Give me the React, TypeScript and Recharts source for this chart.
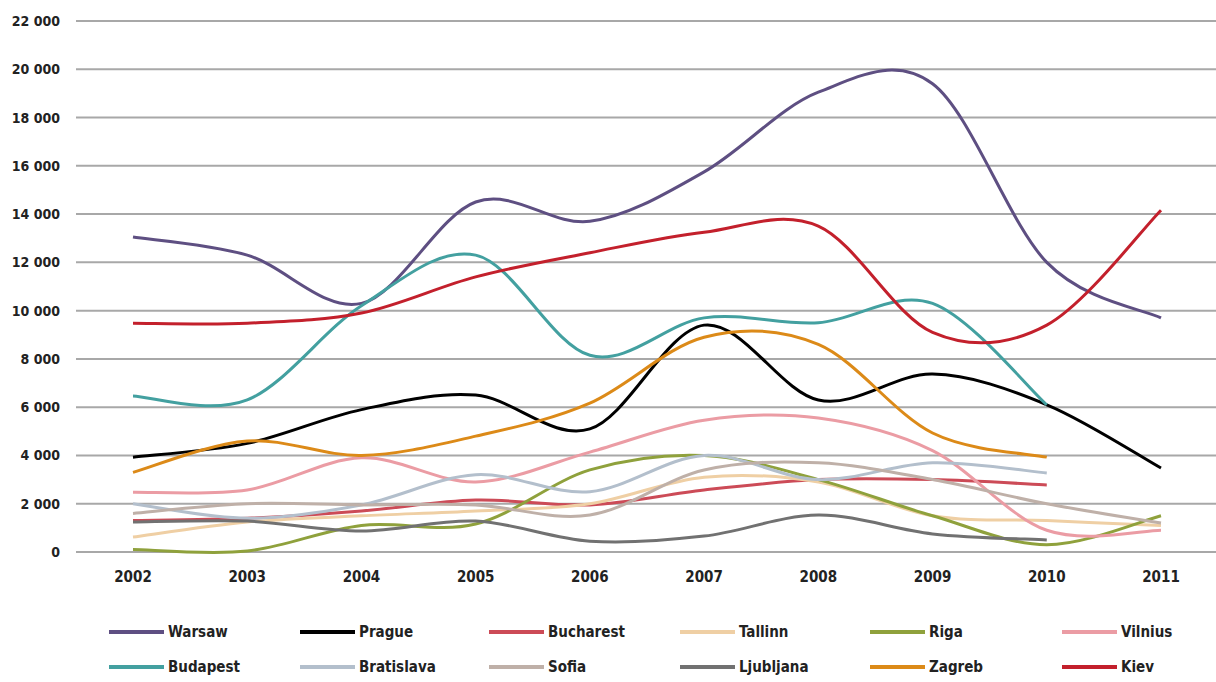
import React from "react";
import { LineChart, Line, XAxis, YAxis, CartesianGrid, Legend } from "recharts";

const years = ["2002", "2003", "2004", "2005", "2006", "2007", "2008", "2009", "2010", "2011"];
const yTicks = [0, 2000, 4000, 6000, 8000, 10000, 12000, 14000, 16000, 18000, 20000, 22000];

const warsaw = [13050, 12300, 10300, 14500, 13700, 15750, 19050, 19400, 12000, 9700];
const prague = [3930, 4500, 5900, 6500, 5100, 9400, 6300, 7370, 6100, 3480];
const bucharest = [1300, 1400, 1700, 2150, 1950, 2570, 3000, 3000, 2780, null];
const tallinn = [620, 1240, 1500, 1700, 2000, 3100, 2900, 1500, 1300, 1100];
const riga = [100, 40, 1100, 1160, 3400, 4000, 3000, 1500, 300, 1500];
const vilnius = [2480, 2570, 3900, 2900, 4140, 5460, 5550, 4200, 900, 900];
const budapest = [6460, 6300, 10200, 12300, 8150, 9700, 9500, 10300, 6100, null];
const bratislava = [2000, 1400, 1950, 3200, 2500, 4000, 3000, 3700, 3270, null];
const sofia = [1600, 2000, 1950, 1950, 1530, 3400, 3700, 3000, 2000, 1200];
const ljubljana = [1240, 1280, 870, 1280, 450, 660, 1530, 750, 500, null];
const zagreb = [3300, 4600, 4000, 4800, 6170, 8900, 8600, 4930, 3930, null];
const kiev = [9480, 9480, 9900, 11400, 12400, 13250, 13500, 9100, 9400, 14160];

const series = [
  { name: "Warsaw", values: warsaw, color: "#5e4f82" },
  { name: "Prague", values: prague, color: "#000000" },
  { name: "Bucharest", values: bucharest, color: "#cc4b57" },
  { name: "Tallinn", values: tallinn, color: "#efcfa4" },
  { name: "Riga", values: riga, color: "#8fa13c" },
  { name: "Vilnius", values: vilnius, color: "#eb9ca4" },
  { name: "Budapest", values: budapest, color: "#43a0a0" },
  { name: "Bratislava", values: bratislava, color: "#b3bfcc" },
  { name: "Sofia", values: sofia, color: "#bfb0a8" },
  { name: "Ljubljana", values: ljubljana, color: "#717171" },
  { name: "Zagreb", values: zagreb, color: "#dc8a18" },
  { name: "Kiev", values: kiev, color: "#c3202c" },
];

const data = years.map((year, i) => {
  const row: any = { year };
  series.forEach((s) => (row[s.name] = s.values[i]));
  return row;
});

const font = "'DejaVu Sans Condensed', 'Liberation Sans', Arial, sans-serif";

// Excel-like smoothed line (Catmull-Rom)
const smooth = (context: any) => {
  let pts: number[][] = [];
  return {
    areaStart() {},
    areaEnd() {},
    lineStart() {
      pts = [];
    },
    point(x: number, y: number) {
      pts.push([+x, +y]);
    },
    lineEnd() {
      if (!pts.length) return;
      context.moveTo(pts[0][0], pts[0][1]);
      for (let i = 0; i < pts.length - 1; i++) {
        const p0 = pts[i - 1] || pts[i];
        const p1 = pts[i];
        const p2 = pts[i + 1];
        const p3 = pts[i + 2] || p2;
        const k = 1 / 6;
        context.bezierCurveTo(
          p1[0] + (p2[0] - p0[0]) * k,
          p1[1] + (p2[1] - p0[1]) * k,
          p2[0] - (p3[0] - p1[0]) * k,
          p2[1] - (p3[1] - p1[1]) * k,
          p2[0],
          p2[1]
        );
      }
    },
  };
};

const fmt = (v: number) => String(v).replace(/\B(?=(\d{3})+(?!\d))/g, " ");

const cols = [109, 300, 489, 680, 870, 1062];

const LegendGrid = () => (
  <div style={{ position: "relative", width: 1216, height: 95 }}>
    {series.map((s, i) => {
      const row = Math.floor(i / 6);
      const col = i % 6;
      return (
        <div
          key={s.name}
          style={{
            position: "absolute",
            left: cols[col],
            top: 36 + row * 35,
            display: "flex",
            alignItems: "center",
            fontFamily: font,
            fontWeight: "bold",
            fontSize: 15,
            color: "#222",
          }}
        >
          <span style={{ display: "inline-block", width: 55, height: 4, background: s.color, marginRight: 4 }} />
          {s.name}
        </div>
      );
    })}
  </div>
);

export default function App() {
  return (
    <div style={{ position: "absolute", left: 0, top: 0, width: 1216, height: 682, background: "#fff" }}>
      <LineChart width={1216} height={682} data={data} margin={{ top: 21, right: -2, bottom: 0, left: 0 }}>
        <CartesianGrid vertical={false} stroke="#a8a8a8" strokeWidth={2} />
        <XAxis
          xAxisId="tk"
          type="number"
          domain={[0, 10]}
          ticks={[0, 1, 2, 3, 4, 5, 6, 7, 8, 9, 10]}
          allowDataOverflow
          height={0}
          tickFormatter={() => ""}
          stroke="#a8a8a8"
          strokeWidth={2}
          tickSize={6}
        />
        <XAxis
          xAxisId="cat"
          dataKey="year"
          height={35}
          padding={{ left: 57, right: 57 }}
          axisLine={false}
          tickLine={false}
          tickMargin={13}
          tick={{ fontFamily: font, fontWeight: "bold", fontSize: 15, fill: "#222" }}
        />
        <YAxis
          width={76}
          domain={[0, 22000]}
          ticks={yTicks}
          axisLine={false}
          tickLine={false}
          tickMargin={10}
          tickFormatter={fmt}
          tick={{ fontFamily: font, fontWeight: "bold", fontSize: 14, fill: "#222" }}
        />
        <Legend verticalAlign="bottom" height={95} content={() => <LegendGrid />} />
        {series.map((s) => (
          <Line
            key={s.name}
            xAxisId="cat"
            dataKey={s.name}
            type={smooth as any}
            stroke={s.color}
            strokeWidth={3}
            dot={false}
            activeDot={false}
            isAnimationActive={false}
          />
        ))}
      </LineChart>
    </div>
  );
}
